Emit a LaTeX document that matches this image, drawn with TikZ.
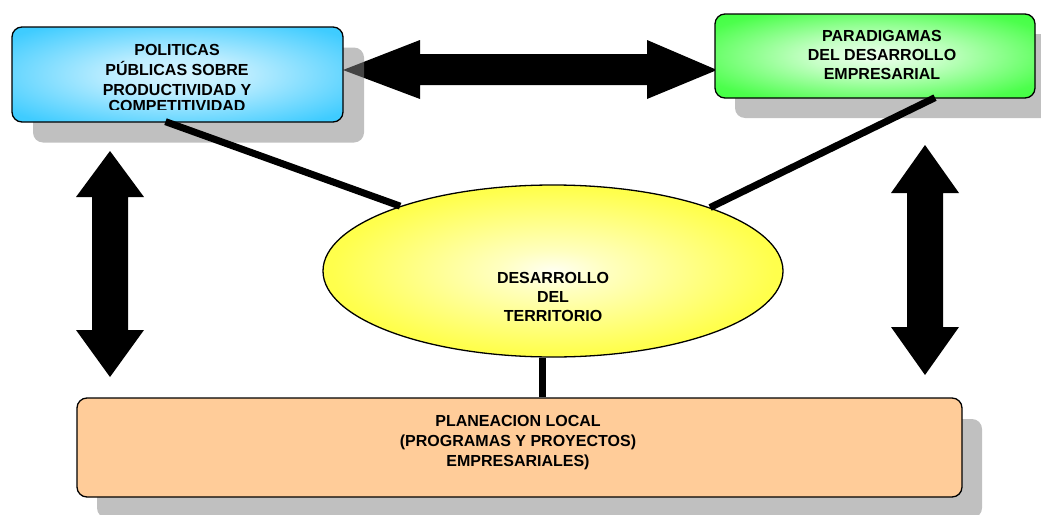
\documentclass[tikz,border=0pt]{standalone}
\usepackage{fontspec}
\setmainfont{Liberation Sans}
\usetikzlibrary{shapes.geometric,calc}
\definecolor{shadowc}{RGB}{132,132,132}
\definecolor{boxorange}{HTML}{FFCC99}
\pgfdeclareradialshading{bshade}{\pgfpoint{0bp}{0bp}}{rgb(0bp)=(0.84,0.96,1);rgb(10bp)=(0.74,0.93,1);rgb(32bp)=(0.25,0.8,1);rgb(42bp)=(0.2,0.8,1);rgb(80bp)=(0.2,0.8,1)}
\pgfdeclareradialshading{gshade}{\pgfpoint{0bp}{0bp}}{rgb(0bp)=(0.94,1,0.94);rgb(10bp)=(0.78,1,0.78);rgb(30bp)=(0.3,1,0.3);rgb(42bp)=(0.2,1,0.2);rgb(80bp)=(0.2,1,0.2)}
\pgfdeclareradialshading{yshade}{\pgfpoint{0bp}{0bp}}{rgb(0bp)=(1,1,0.95);rgb(6bp)=(1,1,0.75);rgb(24bp)=(1,1,0.3);rgb(40bp)=(1,1,0.2);rgb(80bp)=(1,1,0.2)}
\tikzset{
  shadowbox/.style={fill=shadowc, fill opacity=0.51, rounded corners=10pt, inner sep=0pt, draw=none},
  mainbox/.style={draw=black, line width=1.3pt, rounded corners=10pt, inner sep=0pt},
  lbl/.style={font=\bfseries\fontsize{16}{19}\selectfont, align=center, inner sep=0pt, text=black},
  conn/.style={line width=7pt, black},
  blockarrow/.style={fill=black}
}
\begin{document}
\begin{tikzpicture}[x=1pt,y=-1pt]
\useasboundingbox[fill=white] (0,0) rectangle (1041,514);
% horizontal block arrow (under the shadows)
\coordinate (hl) at (343,70);
\coordinate (hr) at (717,70);
\fill[blockarrow] (hl) -- ++(77,-30) -- ++(0,14) -- (647,54) -- (647,40) -- (hr) -- (647,99) -- (647,85) -- (420,85) -- (420,99) -- cycle;
% shadows
\node[shadowbox, minimum width=331pt, minimum height=95pt] (s1) at (198.5,95) {};
\node[shadowbox, minimum width=320pt, minimum height=84pt] (s2) at (895,76) {};
\node[shadowbox, minimum width=885pt, minimum height=99pt] (s4) at (539.5,468.5) {};
% boxes
\node[mainbox, shading=bshade, minimum width=331pt, minimum height=95pt] (b1) at (177.5,74.5) {};
\node[mainbox, shading=gshade, minimum width=320pt, minimum height=84pt] (b2) at (875,56) {};
\node[mainbox, fill=boxorange, minimum width=885pt, minimum height=99pt] (b4) at (519.5,447.5) {};
\node[ellipse, draw=black, line width=1.3pt, shading=yshade, minimum width=460pt, minimum height=172pt, inner sep=0pt] (ell) at (553,271) {};
% text
\begin{scope}
\clip (12,27) rectangle (343,109);
\node[lbl] (t1) at (177,77.5) {POLITICAS\\[1pt]PÚBLICAS SOBRE\\[1pt]PRODUCTIVIDAD Y\\[-3pt]COMPETITIVIDAD};
\end{scope}
\node[lbl] (t2) at (882,55) {PARADIGAMAS\\DEL DESARROLLO\\EMPRESARIAL};
\node[lbl] (t3) at (553,296.5) {DESARROLLO\\DEL\\TERRITORIO};
\node[lbl] (t4) at (518,442.5) {PLANEACION LOCAL\\[1pt](PROGRAMAS Y PROYECTOS)\\[1pt]EMPRESARIALES)};
% connectors
\draw[conn] ($(b1.south)+(-12,-1)$) -- (ell.157);
\draw[conn] ($(b2.south)+(60,-1)$) -- (ell.22);
\draw[conn] (ell.263) -- (ell.263 |- b4.north);
% vertical block arrows
\coordinate (vlt) at (110,151);
\coordinate (vlb) at (110,377);
\fill[blockarrow] (vlt) -- (144,197) -- (128,197) -- (128,330) -- (144,330) -- (vlb) -- (76,330) -- (92,330) -- (92,197) -- (76,197) -- cycle;
\coordinate (vrt) at (925,145);
\coordinate (vrb) at (925,375);
\fill[blockarrow] (vrt) -- (959,193) -- (943,193) -- (943,327) -- (959,327) -- (vrb) -- (891,327) -- (907,327) -- (907,193) -- (891,193) -- cycle;
\end{tikzpicture}
\end{document}
